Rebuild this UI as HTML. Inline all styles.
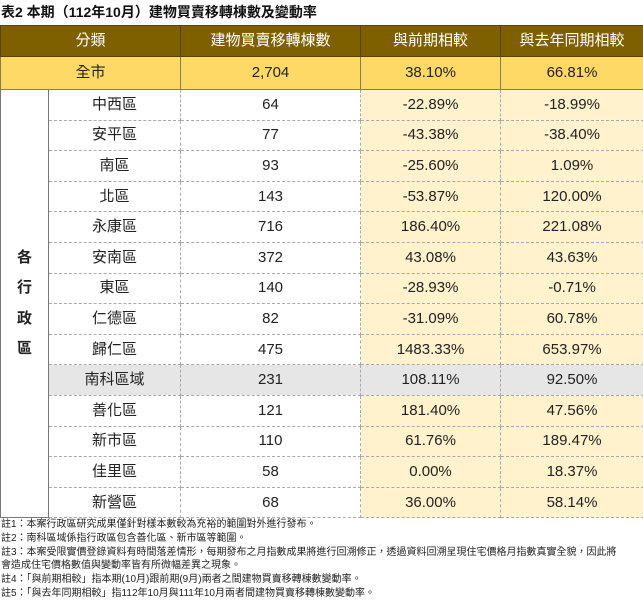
<!DOCTYPE html>
<html><head><meta charset="utf-8"><style>
body{margin:0;width:643px;height:600px;background:#fff;font-family:"Liberation Sans","Noto Sans CJK TC",sans-serif;overflow:hidden;position:relative}
.title{position:absolute;left:1px;top:3px;font-size:14px;font-weight:bold;color:#111;white-space:nowrap;line-height:18px}
table{position:absolute;left:0;top:25px;border-collapse:collapse;table-layout:fixed;width:643px}
td{text-align:center;font-size:15px;color:#222;border:1px dashed #aaa;padding:0;height:30.6px;line-height:16px;white-space:nowrap;box-sizing:border-box}
tr.h td{background:#7f6000;color:#fff;height:31px;border:1px solid #5a4500}
tr.all td{background:#ffd966;height:33px;border:1px solid #8a7a50}
td.y{background:#fff2cc}
tr.g td{background:#e7e6e6}
tr.g td.y{background:#e7e6e6}
td.side{border:1px solid #777;font-weight:bold;line-height:30.5px;vertical-align:middle}
.notes{position:absolute;left:1px;top:518px;font-size:10px;line-height:13.8px;color:#222}
</style></head><body>
<div class="title">表2 本期（112年10月）建物買賣移轉棟數及變動率</div>
<table>
<colgroup><col style="width:48px"><col style="width:132px"><col style="width:180px"><col style="width:140px"><col style="width:143px"></colgroup>
<tr class="h"><td colspan="2">分類</td><td>建物買賣移轉棟數</td><td>與前期相較</td><td>與去年同期相較</td></tr>
<tr class="all"><td colspan="2">全市</td><td>2,704</td><td>38.10%</td><td>66.81%</td></tr>
<tr><td class="side" rowspan="14">各<br>行<br>政<br>區</td><td>中西區</td><td>64</td><td class="y">-22.89%</td><td class="y">-18.99%</td></tr>
<tr><td>安平區</td><td>77</td><td class="y">-43.38%</td><td class="y">-38.40%</td></tr>
<tr><td>南區</td><td>93</td><td class="y">-25.60%</td><td class="y">1.09%</td></tr>
<tr><td>北區</td><td>143</td><td class="y">-53.87%</td><td class="y">120.00%</td></tr>
<tr><td>永康區</td><td>716</td><td class="y">186.40%</td><td class="y">221.08%</td></tr>
<tr><td>安南區</td><td>372</td><td class="y">43.08%</td><td class="y">43.63%</td></tr>
<tr><td>東區</td><td>140</td><td class="y">-28.93%</td><td class="y">-0.71%</td></tr>
<tr><td>仁德區</td><td>82</td><td class="y">-31.09%</td><td class="y">60.78%</td></tr>
<tr><td>歸仁區</td><td>475</td><td class="y">1483.33%</td><td class="y">653.97%</td></tr>
<tr class="g"><td>南科區域</td><td>231</td><td class="y">108.11%</td><td class="y">92.50%</td></tr>
<tr><td>善化區</td><td>121</td><td class="y">181.40%</td><td class="y">47.56%</td></tr>
<tr><td>新市區</td><td>110</td><td class="y">61.76%</td><td class="y">189.47%</td></tr>
<tr><td>佳里區</td><td>58</td><td class="y">0.00%</td><td class="y">18.37%</td></tr>
<tr><td>新營區</td><td>68</td><td class="y">36.00%</td><td class="y">58.14%</td></tr>
</table>
<div class="notes">
註1：本案行政區研究成果僅針對樣本數較為充裕的範圍對外進行發布。<br>
註2：南科區域係指行政區包含善化區、新市區等範圍。<br>
註3：本案受限實價登錄資料有時間落差情形，每期發布之月指數成果將進行回溯修正，透過資料回溯呈現住宅價格月指數真實全貌，因此將<br>
會造成住宅價格數值與變動率皆有所微幅差異之現象。<br>
註4：「與前期相較」指本期(10月)跟前期(9月)兩者之間建物買賣移轉棟數變動率。<br>
註5：「與去年同期相較」指112年10月與111年10月兩者間建物買賣移轉棟數變動率。
</div>
</body></html>
